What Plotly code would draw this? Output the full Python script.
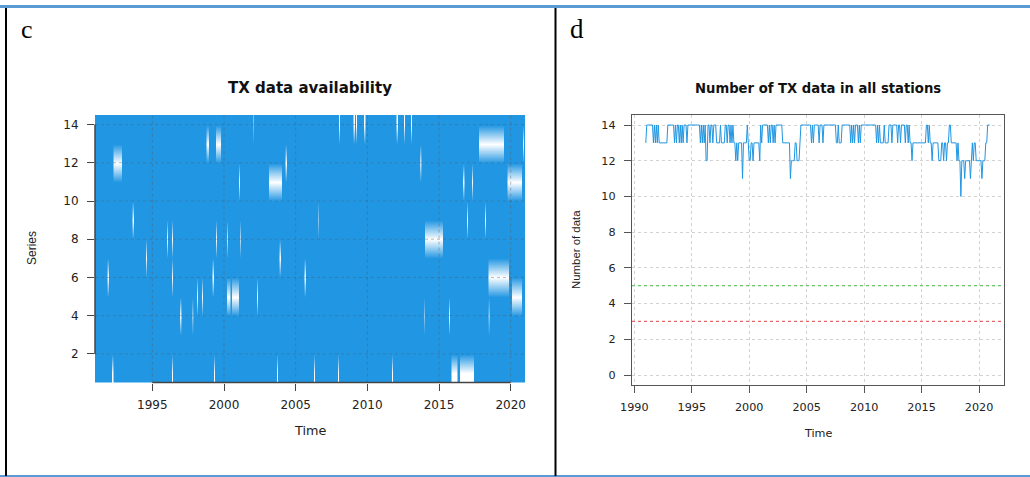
import numpy as np
import plotly.graph_objects as go

# ---------------- data ----------------
START_YEAR = 1991
N_MONTHS = 360
series_ids = list(range(1, 15))

# Missing TX data per station: (series, first month, last month, availability fraction)
tx_gaps = [
    (14, 2002.0, 2002.0, 0.6), (14, 2008.0, 2008.0, 0.0), (14, 2009.0, 2009.0, 0.0),
    (14, 2009.17, 2009.17, 0.0), (14, 2009.75, 2009.75, 0.0), (14, 2012.0, 2012.0, 0.0),
    (14, 2012.5, 2012.5, 0.0), (14, 2013.0, 2013.0, 0.0),
    (13, 1998.75, 1998.83, 0.0), (13, 1999.42, 1999.67, 0.0), (13, 2017.75, 2019.42, 0.0),
    (13, 2020.83, 2020.83, 0.0),
    (12, 1992.25, 1992.75, 0.0), (12, 2004.25, 2004.25, 0.0), (12, 2013.67, 2013.67, 0.2),
    (11, 2001.0, 2001.0, 0.0), (11, 2003.08, 2003.92, 0.0), (11, 2016.67, 2016.67, 0.0),
    (11, 2017.25, 2017.25, 0.0), (11, 2019.75, 2020.67, 0.0),
    (9, 1993.58, 1993.58, 0.0), (9, 2006.5, 2006.5, 0.5), (9, 2016.92, 2016.92, 0.0),
    (9, 2018.17, 2018.17, 0.0),
    (8, 1996.0, 1996.0, 0.0), (8, 1996.33, 1996.33, 0.0), (8, 1999.42, 1999.42, 0.0),
    (8, 2000.17, 2000.17, 0.2), (8, 2001.08, 2001.08, 0.3), (8, 2014.0, 2015.17, 0.0),
    (7, 1994.5, 1994.5, 0.0), (7, 2003.83, 2003.83, 0.0),
    (6, 1991.83, 1991.83, 0.0), (6, 1996.33, 1996.33, 0.0), (6, 1999.17, 1999.17, 0.0),
    (6, 2005.58, 2005.58, 0.0), (6, 2018.42, 2019.75, 0.0),
    (5, 1998.08, 1998.08, 0.0), (5, 1998.42, 1998.42, 0.0), (5, 2000.17, 2000.33, 0.0),
    (5, 2000.5, 2000.92, 0.0), (5, 2002.25, 2002.25, 0.0), (5, 2020.08, 2020.67, 0.0),
    (4, 1996.92, 1996.92, 0.0), (4, 1997.75, 1997.75, 0.5), (4, 2013.92, 2013.92, 0.5),
    (4, 2015.67, 2015.67, 0.0), (4, 2018.42, 2018.42, 0.5),
    (1, 1992.17, 1992.17, 0.0), (1, 1996.33, 1996.33, 0.0), (1, 1999.25, 1999.25, 0.0),
    (1, 2003.67, 2003.67, 0.0), (1, 2006.25, 2006.25, 0.0), (1, 2007.92, 2007.92, 0.0),
    (1, 2011.67, 2011.67, 0.0), (1, 2015.83, 2016.17, 0.0), (1, 2016.42, 2017.33, 0.0),
]

# Number of stations with data: months below 14 as (first month, last month, count)
count_runs = [
    (1991.0, 1991.0, 13), (1991.67, 1991.67, 13), (1991.83, 1991.83, 13), (1992.0, 1992.0, 13),
    (1992.17, 1992.83, 13), (1993.5, 1993.5, 13), (1993.67, 1993.67, 13), (1993.92, 1993.92, 13),
    (1994.08, 1994.08, 13), (1994.25, 1994.25, 13), (1994.58, 1994.58, 13),
    (1995.75, 1995.75, 13), (1995.92, 1995.92, 13), (1996.08, 1996.08, 13), (1996.25, 1996.33, 12),
    (1996.58, 1996.58, 13), (1996.83, 1996.83, 13), (1997.17, 1997.42, 13), (1997.58, 1997.83, 13),
    (1998.08, 1998.08, 13), (1998.33, 1998.33, 13), (1998.5, 1998.5, 13),
    (1998.67, 1998.75, 13), (1998.83, 1998.83, 12), (1998.92, 1998.92, 13), (1999.0, 1999.0, 12),
    (1999.08, 1999.33, 13), (1999.42, 1999.42, 11), (1999.5, 1999.75, 13), (1999.92, 1999.92, 13),
    (2000.0, 2000.08, 12), (2000.17, 2000.25, 13), (2000.33, 2000.33, 12), (2000.42, 2000.83, 13),
    (2000.92, 2000.92, 12), (2001.08, 2001.08, 13), (2001.67, 2001.67, 13), (2001.83, 2001.83, 13),
    (2002.08, 2002.08, 13), (2002.25, 2002.25, 13),
    (2002.92, 2003.5, 13), (2003.58, 2003.58, 11), (2003.67, 2003.92, 12), (2004.0, 2004.08, 13),
    (2004.17, 2004.33, 12), (2004.42, 2004.42, 13), (2005.42, 2005.42, 13), (2005.58, 2005.58, 13),
    (2006.08, 2006.08, 13), (2006.42, 2006.42, 13), (2007.58, 2007.67, 13), (2007.83, 2008.0, 13),
    (2008.83, 2008.83, 13), (2009.0, 2009.0, 13), (2009.17, 2009.17, 13), (2009.5, 2009.5, 13),
    (2009.67, 2009.67, 13), (2011.08, 2011.08, 13), (2011.25, 2011.25, 13), (2011.42, 2011.67, 13),
    (2011.83, 2012.08, 13), (2012.42, 2012.42, 13), (2012.92, 2012.92, 13), (2013.17, 2013.17, 13),
    (2013.58, 2013.58, 13), (2013.83, 2013.83, 13), (2014.0, 2014.08, 13), (2014.17, 2014.17, 12),
    (2014.25, 2015.25, 13), (2015.33, 2015.33, 13), (2015.58, 2015.58, 13),
    (2015.75, 2015.83, 13), (2015.92, 2015.92, 12), (2016.0, 2016.42, 13), (2016.5, 2016.67, 12),
    (2016.75, 2016.83, 13), (2016.92, 2016.92, 12), (2017.0, 2017.08, 13), (2017.17, 2017.17, 12),
    (2017.25, 2017.33, 13), (2017.58, 2018.0, 13), (2018.08, 2018.08, 12), (2018.17, 2018.17, 13),
    (2018.25, 2018.33, 12), (2018.42, 2018.42, 10), (2018.5, 2018.67, 12), (2018.75, 2018.75, 11),
    (2018.83, 2019.17, 12), (2019.25, 2019.25, 11), (2019.33, 2019.33, 12), (2019.42, 2019.42, 13),
    (2019.5, 2019.5, 12), (2019.58, 2019.67, 13), (2019.75, 2020.17, 12), (2020.25, 2020.25, 11),
    (2020.33, 2020.5, 12), (2020.58, 2020.67, 13),
]

threshold_good = 5
threshold_min = 3

left_xticks = [1995, 2000, 2005, 2010, 2015, 2020]
left_yticks = [2, 4, 6, 8, 10, 12, 14]
right_xticks = [1990, 1995, 2000, 2005, 2010, 2015, 2020]
right_yticks = [0, 2, 4, 6, 8, 10, 12, 14]

# ---------------- build arrays ----------------
def month_index(y):
    return int(round((y - START_YEAR) * 12))

avail = np.ones((len(series_ids), N_MONTHS))
for s, a, b, v in tx_gaps:
    avail[s - 1, month_index(a):month_index(b) + 1] = v
cell_x = [START_YEAR + (k + 0.5) / 12 for k in range(N_MONTHS)]

count = np.full(N_MONTHS, 14.0)
for a, b, v in count_runs:
    count[month_index(a):month_index(b) + 1] = v
count_x = [START_YEAR + k / 12 for k in range(N_MONTHS)]

# ---------------- figure ----------------
W, H = 1030, 477
BLUE = "#2196E3"
TXT = "#222222"
FONT = "DejaVu Sans"

def px(x):
    return x / W

def py(y):
    return 1 - y / H

fig = go.Figure()
fig.add_trace(go.Heatmap(
    z=avail, x=cell_x, y=series_ids, zmin=0, zmax=1, zsmooth="best",
    colorscale=[[0, "#ffffff"], [1, BLUE]], showscale=False, hoverinfo="skip",
    xaxis="x", yaxis="y"))
fig.add_trace(go.Scatter(
    x=count_x, y=count, mode="lines", line=dict(color=BLUE, width=1),
    xaxis="x2", yaxis="y2", hoverinfo="skip", showlegend=False))

tickfont_l = dict(family=FONT, size=12, color=TXT)
tickfont_r = dict(family=FONT, size=11.2, color=TXT)

fig.update_layout(
    width=W, height=H, margin=dict(l=0, r=0, t=0, b=0, pad=0, autoexpand=False),
    paper_bgcolor="white", plot_bgcolor="white", showlegend=False,
    xaxis=dict(domain=[px(95), px(525)], range=[1991, 2021], tickvals=left_xticks,
               ticks="outside", ticklen=7, tickcolor="#444", tickwidth=1, automargin=False,
               showgrid=False, zeroline=False, showline=False, tickfont=tickfont_l,
               ticklabelstandoff=4),
    yaxis=dict(domain=[py(382.6), py(115)], range=[0.5, 14.5], tickvals=left_yticks,
               ticks="outside", ticklen=7, tickcolor="#444", tickwidth=1, automargin=False,
               showgrid=False, zeroline=False, showline=False, tickfont=tickfont_l,
               ticklabelstandoff=6),
    xaxis2=dict(domain=[px(632), px(1004)], range=[1989.8, 2022.17], tickvals=right_xticks,
                ticks="outside", ticklen=7, tickcolor="#555", tickwidth=1, automargin=False,
                showgrid=True, gridcolor="#d2d2d2", griddash="dot", gridwidth=1,
                zeroline=False, showline=True, linecolor="#555", linewidth=1.3, mirror=True,
                tickfont=tickfont_r, ticklabelstandoff=4, anchor="y2"),
    yaxis2=dict(domain=[py(385), py(115)], range=[-0.56, 14.56], tickvals=right_yticks,
                ticks="outside", ticklen=7, tickcolor="#555", tickwidth=1, automargin=False,
                showgrid=True, gridcolor="#d2d2d2", griddash="dot", gridwidth=1,
                zeroline=False, showline=True, linecolor="#555", linewidth=1.3, mirror=True,
                tickfont=tickfont_r, ticklabelstandoff=6, anchor="x2"),
)

shapes = []
# dotted grid over the heatmap
GRID_L = "rgba(90,90,90,0.42)"
for xv in left_xticks:
    shapes.append(dict(type="line", xref="x", yref="y domain", x0=xv, x1=xv, y0=0, y1=1,
                       line=dict(color=GRID_L, width=1, dash="dot"), layer="above"))
for yv in left_yticks:
    shapes.append(dict(type="line", xref="x domain", yref="y", x0=0, x1=1, y0=yv, y1=yv,
                       line=dict(color=GRID_L, width=1, dash="dot"), layer="above"))
# R-style axis lines on the heatmap
shapes.append(dict(type="line", xref="x domain", yref="y", x0=0, x1=0,
                   y0=left_yticks[0], y1=left_yticks[-1], line=dict(color="#444", width=1.5), layer="above"))
shapes.append(dict(type="line", xref="x", yref="y domain", x0=left_xticks[0], x1=left_xticks[-1],
                   y0=0, y1=0, line=dict(color="#444", width=1.5), layer="above"))
# threshold lines
shapes.append(dict(type="line", xref="x2 domain", yref="y2", x0=0, x1=1, y0=threshold_good,
                   y1=threshold_good, line=dict(color="#66C466", width=1.2, dash="3px,3px")))
shapes.append(dict(type="line", xref="x2 domain", yref="y2", x0=0, x1=1, y0=threshold_min,
                   y1=threshold_min, line=dict(color="#E46A6A", width=1.2, dash="3px,3px")))
# page frame
shapes.append(dict(type="line", xref="paper", yref="paper", x0=0, x1=1, y0=py(6.5), y1=py(6.5),
                   line=dict(color="#5B9BD5", width=3)))
shapes.append(dict(type="line", xref="paper", yref="paper", x0=0, x1=1, y0=py(476), y1=py(476),
                   line=dict(color="#5B9BD5", width=2)))
shapes.append(dict(type="line", xref="paper", yref="paper", x0=px(6), x1=px(6), y0=py(8), y1=py(476),
                   line=dict(color="#000000", width=2)))
shapes.append(dict(type="line", xref="paper", yref="paper", x0=px(555.5), x1=px(555.5), y0=py(8), y1=py(476),
                   line=dict(color="#000000", width=2)))
fig.update_layout(shapes=shapes)

ann = []
def text(x, y, s, size, family=FONT, bold=False, angle=0, color=TXT):
    ann.append(dict(x=px(x), y=py(y), xref="paper", yref="paper", text=f"<b>{s}</b>" if bold else s,
                    showarrow=False, xanchor="center", yanchor="middle", textangle=angle,
                    font=dict(family=family, size=size, color=color)))

text(27, 30, "c", 26, family="Liberation Serif", color="#000")
text(577, 29, "d", 27, family="Liberation Serif", color="#000")
text(310, 88.5, "TX data availability", 15, bold=True, color="#111")
text(818, 88.5, "Number of TX data in all stations", 13.2, bold=True, color="#111")
text(310, 430, "Time", 12.8)
text(818, 433, "Time", 11.2)
text(32, 248, "Series", 12, family="Liberation Sans", angle=-90)
text(576, 250, "Number of data", 11.4, family="Liberation Sans", angle=-90)
fig.update_layout(annotations=ann)

fig.write_html("out.html")
